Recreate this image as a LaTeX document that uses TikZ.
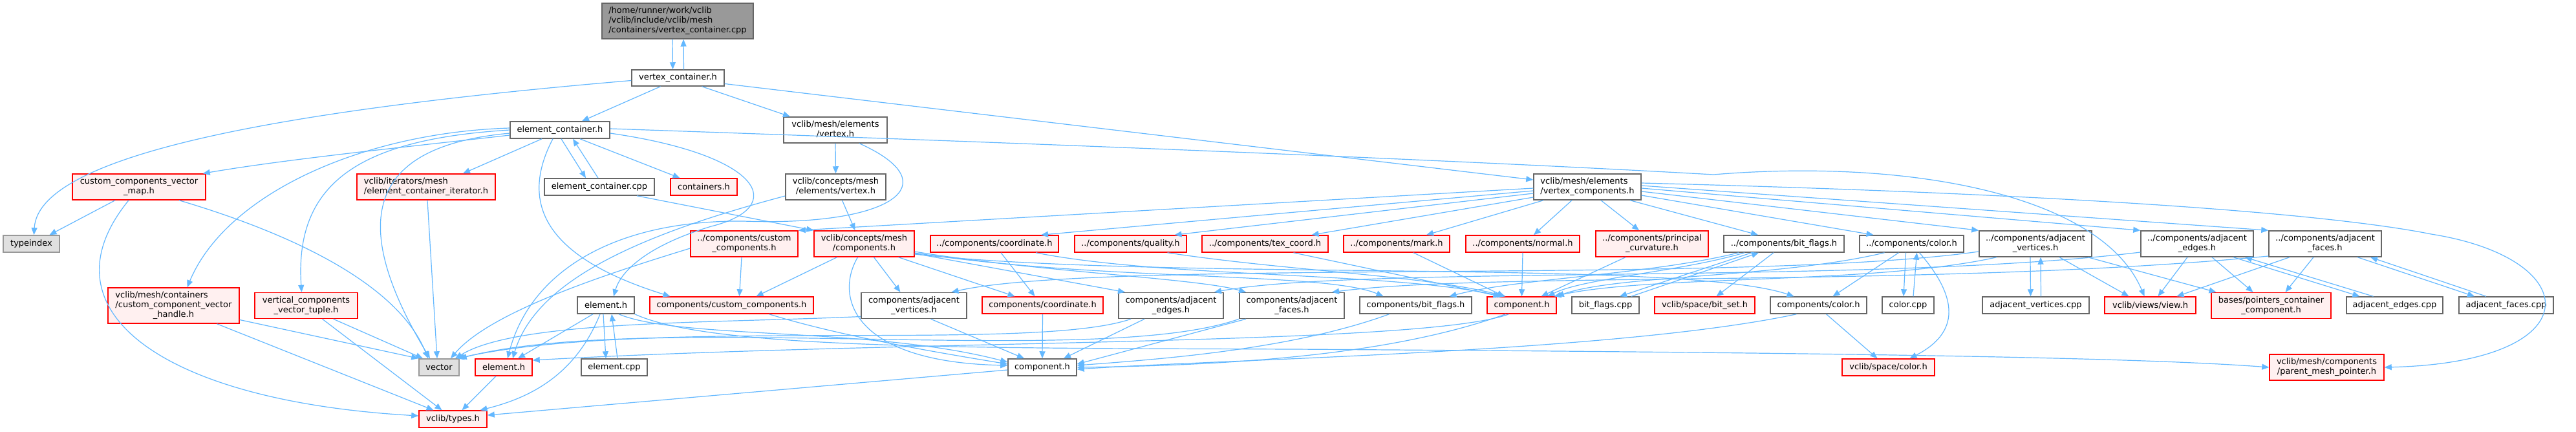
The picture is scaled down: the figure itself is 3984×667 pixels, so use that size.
\documentclass[tikz,border=0pt]{standalone}
\usepackage{fontspec}
\setmainfont{DejaVu Sans}
\usetikzlibrary{arrows.meta}
\definecolor{edgec}{HTML}{63B8FF}
\definecolor{redfill}{HTML}{FFF0F0}
\definecolor{graybd}{HTML}{666666}
\definecolor{extfill}{HTML}{E0E0E0}
\definecolor{extbd}{HTML}{999999}
\definecolor{rootfill}{HTML}{999999}
\newcommand{\twol}[2]{\begin{tabular}{@{}l@{}}#1\\\multicolumn{1}{@{}c@{}}{#2}\end{tabular}}
\begin{document}
\begin{tikzpicture}[x=1pt,y=-1pt,
  nbox/.style={draw, line width=1.5pt, inner sep=0pt, font=\fontsize{13}{15}\selectfont, text=black},
  wn/.style={nbox, draw=graybd, fill=white},
  rn/.style={nbox, draw=red, fill=redfill},
  gn/.style={nbox, draw=extbd, fill=extfill},
  rootn/.style={nbox, draw=graybd, fill=rootfill},
  sz/.style 2 args={minimum width=#1pt, minimum height=#2pt},
  edg/.style={draw=edgec, line width=1.2pt, -{Triangle[length=11pt,width=9pt]}},
]
\fill[white] (0,0) rectangle (3984,667);
\useasboundingbox (0,0) rectangle (3984,667);

% nodes
\node[rootn,sz={234}{55}] (root) at (1048,32.5) {\twol{/home/runner/work/vclib\\/vclib/include/vclib/mesh}{/containers/vertex\_container.cpp}};
\node[wn,sz={143}{25}] (vc) at (1048.5,120.5) {vertex\_container.h};
\node[wn,sz={154}{26}] (ec) at (866,201) {element\_container.h};
\node[wn,sz={160}{40}] (vtx) at (1292,201) {\twol{vclib/mesh/elements}{/vertex.h}};
\node[rn,sz={206}{40}] (ccvm) at (215,289) {\twol{custom\_components\_vector}{\_map.h}};
\node[rn,sz={214}{40}] (eci) at (659,289) {\twol{vclib/iterators/mesh}{/element\_container\_iterator.h}};
\node[wn,sz={170}{26}] (eccpp) at (927,289) {element\_container.cpp};
\node[rn,sz={103}{26}] (cont) at (1088.5,289) {containers.h};
\node[wn,sz={155}{40}] (cvtx) at (1292.5,289) {\twol{vclib/concepts/mesh}{/elements/vertex.h}};
\node[wn,sz={166}{40}] (vcomp) at (2455,289) {\twol{vclib/mesh/elements}{/vertex\_components.h}};
\node[gn,sz={87}{26}] (typeidx) at (48.5,377) {typeindex};
\node[rn,sz={166}{40}] (ccust) at (1151,377) {\twol{../components/custom}{\_components.h}};
\node[rn,sz={155}{40}] (ccomp) at (1336.5,377) {\twol{vclib/concepts/mesh}{/components.h}};
\node[rn,sz={198}{26}] (coord1) at (1538,377) {../components/coordinate.h};
\node[rn,sz={173}{26}] (qual) at (1748.5,377) {../components/quality.h};
\node[rn,sz={195}{26}] (texc) at (1956.5,377) {../components/tex\_coord.h};
\node[rn,sz={164}{26}] (mark) at (2160,377) {../components/mark.h};
\node[rn,sz={176}{26}] (normal) at (2355,377) {../components/normal.h};
\node[rn,sz={174}{40}] (princ) at (2555,377) {\twol{../components/principal}{\_curvature.h}};
\node[wn,sz={186}{26}] (bitf1) at (2759,377) {../components/bit\_flags.h};
\node[wn,sz={161}{26}] (color1) at (2956.5,377) {../components/color.h};
\node[wn,sz={174}{40}] (adjv1) at (3148,377) {\twol{../components/adjacent}{\_vertices.h}};
\node[wn,sz={174}{40}] (adje1) at (3398,377) {\twol{../components/adjacent}{\_edges.h}};
\node[wn,sz={174}{40}] (adjf1) at (3596,377) {\twol{../components/adjacent}{\_faces.h}};
\node[rn,sz={203}{55}] (ccvh) at (268.5,472.5) {\twol{vclib/mesh/containers\\/custom\_component\_vector}{\_handle.h}};
\node[rn,sz={159}{40}] (vcvt) at (473.5,472.5) {\twol{vertical\_components}{\_vector\_tuple.h}};
\node[wn,sz={88}{26}] (elemW) at (937,472) {element.h};
\node[rn,sz={253}{26}] (ccust2) at (1131.5,472) {components/custom\_components.h};
\node[wn,sz={163}{40}] (adjv2) at (1413.5,472.5) {\twol{components/adjacent}{\_vertices.h}};
\node[rn,sz={187}{26}] (coord2) at (1612.5,472) {components/coordinate.h};
\node[wn,sz={162}{40}] (adje2) at (1811,472.5) {\twol{components/adjacent}{\_edges.h}};
\node[wn,sz={162}{40}] (adjf2) at (1998,472.5) {\twol{components/adjacent}{\_faces.h}};
\node[wn,sz={173}{26}] (bitf2) at (2189.5,472) {components/bit\_flags.h};
\node[rn,sz={107}{26}] (compR) at (2353.5,472) {component.h};
\node[wn,sz={104}{26}] (bfcpp) at (2483,472) {bit\_flags.cpp};
\node[rn,sz={155}{26}] (bitset) at (2636.5,472) {vclib/space/bit\_set.h};
\node[wn,sz={149}{26}] (color2) at (2812.5,472) {components/color.h};
\node[wn,sz={80}{26}] (colcpp) at (2951,472) {color.cpp};
\node[wn,sz={165}{26}] (adjvcpp) at (3148.5,472) {adjacent\_vertices.cpp};
\node[rn,sz={141}{26}] (view) at (3325.5,472) {vclib/views/view.h};
\node[rn,sz={185}{40}] (ptrc) at (3512.5,472.5) {\twol{bases/pointers\_container}{\_component.h}};
\node[wn,sz={149}{26}] (adjecpp) at (3703.5,472) {adjacent\_edges.cpp};
\node[wn,sz={146}{26}] (adjfcpp) at (3876,472) {adjacent\_faces.cpp};
\node[gn,sz={62}{26}] (vector) at (679,568) {vector};
\node[rn,sz={88}{26}] (elemR) at (779,568) {element.h};
\node[wn,sz={102}{26}] (elemcpp) at (950,568) {element.cpp};
\node[wn,sz={106}{26}] (compW) at (1612,568) {component.h};
\node[rn,sz={143}{26}] (scolor) at (2920.5,568) {vclib/space/color.h};
\node[rn,sz={177}{40}] (pmp) at (3598.5,568) {\twol{vclib/mesh/components}{/parent\_mesh\_pointer.h}};
\node[rn,sz={105}{26}] (types) at (700.5,648) {vclib/types.h};

% edges
\draw[edg] ([xshift=-8pt]root.south) -- ([xshift=-8pt]vc.north);
\draw[edg] ([xshift=9pt]vc.north) -- ([xshift=9pt]root.south);
\draw[edg] ([yshift=-4pt]vc.west) .. controls (500,165) and (60,230) .. ([xshift=4pt]typeidx.north);
\draw[edg] ([xshift=-27pt]vc.south) -- ([xshift=34pt]ec.north);
\draw[edg] ([xshift=37pt]vc.south) -- ([xshift=-70pt]vtx.north);
\draw[edg] ([yshift=-9pt]vc.east) -- ([yshift=11pt]vcomp.west);
\draw[edg] ([yshift=-8pt]ec.west) .. controls (650,225) and (450,245) .. ([xshift=-5pt]ccvm.north east);
\draw[edg] ([yshift=3pt]ec.west) .. controls (560,205) and (350,300) .. ([xshift=21pt]ccvh.north);
\draw[edg] (ec.west) .. controls (560,215) and (455,280) .. ([xshift=-7pt]vcvt.north);
\draw[edg] ([yshift=-5pt]ec.west) .. controls (580,225) and (530,330) .. ([xshift=-14pt]vector.north);
\draw[edg] ([xshift=-28pt]ec.south) -- ([xshift=57pt]eci.north);
\draw[edg] ([xshift=2pt]ec.south) -- ([xshift=-21pt]eccpp.north);
\draw[edg] ([xshift=-2pt]eccpp.north) -- ([xshift=20pt]ec.south);
\draw[edg] ([xshift=31pt]ec.south) -- ([xshift=-37pt]cont.north);
\draw[edg] ([xshift=-11pt]ec.south) .. controls (800,320) and (850,400) .. ([xshift=-95pt]ccust2.north);
\draw[edg] ([yshift=2pt]ec.east) .. controls (1700,225) and (2300,250) .. (2650,270) .. controls (2950,245) and (3250,300) .. ([xshift=-9pt]view.north);
\draw[edg] ([yshift=-5pt]ec.east) .. controls (1180,240) and (1220,320) .. (1100,350) .. controls (1000,380) and (960,420) .. ([xshift=12pt]elemW.north);
\draw[edg] (vtx.south) -- (cvtx.north);
\draw[edg] ([xshift=37pt]vtx.south) .. controls (1470,285) and (1380,350) .. (1150,342) .. controls (950,340) and (820,420) .. ([xshift=6pt]elemR.north);
\draw[edg] ([xshift=10pt]cvtx.south) -- ([xshift=-14pt]ccomp.north);
\draw[edg] ([yshift=-14pt]cvtx.west) .. controls (1000,360) and (830,430) .. ([xshift=14pt]elemR.north);
\draw[edg] ([xshift=58pt]eccpp.south) -- (ccomp.north west);
\draw[edg] ([yshift=-2pt]vcomp.west) -- (ccust.north east);
\draw[edg] ([yshift=-6pt]vcomp.west) -- ([xshift=72pt]coord1.north);
\draw[edg] ([yshift=-10pt]vcomp.west) -- ([xshift=68pt]qual.north);
\draw[edg] ([yshift=-16pt]vcomp.west) -- ([xshift=72pt]texc.north);
\draw[edg] ([xshift=-68pt]vcomp.south) -- ([xshift=46pt]mark.north);
\draw[edg] ([xshift=-24pt]vcomp.south) -- ([xshift=17pt]normal.north);
\draw[edg] ([xshift=21pt]vcomp.south) -- ([xshift=-20pt]princ.north);
\draw[edg] ([xshift=66pt]vcomp.south) -- ([xshift=-40pt]bitf1.north);
\draw[edg] ([yshift=-13pt]vcomp.east) -- ([xshift=-59pt]color1.north);
\draw[edg] ([yshift=-7pt]vcomp.east) -- (adjv1.north west);
\draw[edg] ([yshift=-2pt]vcomp.east) -- (adje1.north west);
\draw[edg] ([yshift=2pt]vcomp.east) -- (adjf1.north west);
\draw[edg] ([yshift=6pt]vcomp.east) .. controls (3200,300) and (3600,330) .. (3760,362) .. controls (4000,400) and (4010,560) .. (pmp.east);
\draw[edg] ([xshift=-37pt]ccvm.south) -- ([xshift=28pt]typeidx.north);
\draw[edg] ([xshift=-16pt]ccvm.south) .. controls (60,480) and (250,620) .. ([yshift=5pt]types.west);
\draw[edg] ([xshift=62pt]ccvm.south) .. controls (480,370) and (620,450) .. ([xshift=-17pt]vector.north);
\draw[edg] ([xshift=2pt]eci.south) -- ([xshift=-3pt]vector.north);
\draw[edg] ([yshift=-22pt]ccvh.east) -- (vector.north west);
\draw[edg] ([xshift=67pt]ccvh.south) -- ([xshift=-30pt]types.north);
\draw[edg] ([xshift=42pt]vcvt.south) -- ([xshift=-25pt]vector.north);
\draw[edg] ([xshift=25pt]vcvt.south) -- ([xshift=-17pt]types.north);
\draw[edg] ([yshift=-7pt]ccust.west) .. controls (950,420) and (760,480) .. ([xshift=18pt]vector.north);
\draw[edg] ([xshift=-4pt]ccust.south) -- ([xshift=12pt]ccust2.north);
\draw[edg] ([xshift=-42pt]ccomp.south) -- ([xshift=38pt]ccust2.north);
\draw[edg] ([xshift=15pt]ccomp.south) -- ([xshift=-21pt]adjv2.north);
\draw[edg] ([xshift=53pt]ccomp.south) -- ([xshift=-43pt]coord2.north);
\draw[edg] ([yshift=-15pt]ccomp.east) -- ([xshift=-71pt]adje2.north);
\draw[edg] ([yshift=-12pt]ccomp.east) .. controls (1600,420) and (1850,430) .. ([xshift=-71pt]adjf2.north);
\draw[edg] ([yshift=-14pt]ccomp.east) .. controls (1700,435) and (2050,420) .. ([xshift=-50pt]bitf2.north);
\draw[edg] ([yshift=-16pt]ccomp.east) .. controls (1800,435) and (2600,400) .. ([xshift=-38pt]color2.north);
\draw[edg] ([xshift=-10pt]ccomp.south) .. controls (1290,460) and (1320,560) .. ([yshift=3pt]compW.west);
\draw[edg] ([xshift=10pt]coord1.south) -- ([xshift=-12pt]coord2.north);
\draw[edg] ([xshift=64pt]coord1.south) .. controls (1800,430) and (2150,420) .. ([xshift=-30pt]compR.north);
\draw[edg] ([xshift=57pt]qual.south) .. controls (2000,420) and (2200,425) .. ([xshift=-25pt]compR.north);
\draw[edg] ([xshift=44pt]texc.south) -- ([xshift=-33pt]compR.north);
\draw[edg] ([xshift=26pt]mark.south) -- ([xshift=-27pt]compR.north);
\draw[edg] (normal.south) -- (compR.north);
\draw[edg] ([xshift=-41pt]princ.south) -- ([xshift=30pt]compR.north);
\draw[edg] ([xshift=-61pt]bitf1.south) .. controls (2600,420) and (2450,430) .. ([xshift=40pt]compR.north);
\draw[edg] ([xshift=-70pt]bitf1.south) .. controls (2550,425) and (2350,430) .. ([xshift=52pt]bitf2.north);
\draw[edg] ([xshift=-16pt]bitf1.south) -- ([xshift=18pt]bitset.north);
\draw[edg] ([xshift=-50pt]bitf1.south) -- ([xshift=22pt]bfcpp.north);
\draw[edg] ([xshift=40pt]bfcpp.north) -- ([xshift=-39pt]bitf1.south);
\draw[edg] ([xshift=-20pt]color1.south) -- ([xshift=22pt]color2.north);
\draw[edg] ([xshift=-9pt]color1.south) -- ([xshift=-7pt]colcpp.north);
\draw[edg] ([xshift=8pt]colcpp.north) -- ([xshift=8pt]color1.south);
\draw[edg] ([xshift=12pt]color1.south) .. controls (3020,450) and (3040,510) .. ([xshift=33pt]scolor.north);
\draw[edg] ([xshift=12pt]color2.south) -- ([xshift=-17pt]scolor.north);
\draw[edg] ([xshift=-42pt]color1.south) .. controls (2750,430) and (2500,425) .. (compR.north east);
\draw[edg] ([xshift=-8pt]adjv1.south) -- ([xshift=-8pt]adjvcpp.north);
\draw[edg] ([xshift=8pt]adjvcpp.north) -- ([xshift=8pt]adjv1.south);
\draw[edg] ([xshift=37pt]adjv1.south) -- ([xshift=-33pt]view.north);
\draw[edg] ([xshift=81pt]adjv1.south) -- ([xshift=-85pt]ptrc.north);
\draw[edg] ([yshift=-12pt]adjv1.west) .. controls (2700,440) and (1700,400) .. ([xshift=58pt]adjv2.north);
\draw[edg] ([xshift=-60pt]adjv1.south) .. controls (2900,440) and (2550,425) .. ([xshift=50pt]compR.north);
\draw[edg] ([xshift=-15pt]adje1.south) -- ([xshift=12pt]view.north);
\draw[edg] ([xshift=23pt]adje1.south) -- ([xshift=-28pt]ptrc.north);
\draw[edg] ([xshift=56pt]adje1.south) -- ([xshift=-54pt]adjecpp.north);
\draw[edg] ([xshift=-33pt]adjecpp.north) -- ([xshift=74pt]adje1.south);
\draw[edg] ([yshift=-13pt]adje1.west) .. controls (2900,440) and (2100,410) .. ([xshift=67pt]adje2.north);
\draw[edg] ([xshift=-55pt]adjf1.south) -- ([xshift=41pt]view.north);
\draw[edg] ([xshift=-18pt]adjf1.south) -- ([xshift=22pt]ptrc.north);
\draw[edg] ([xshift=50pt]adjf1.south) -- ([xshift=-49pt]adjfcpp.north);
\draw[edg] ([xshift=-31pt]adjfcpp.north) -- ([xshift=70pt]adjf1.south);
\draw[edg] ([yshift=-19pt]adjf1.west) .. controls (3000,445) and (2300,420) .. ([xshift=62pt]adjf2.north);
\draw[edg] ([xshift=-20pt]elemW.south) -- ([xshift=22pt]elemR.north);
\draw[edg] ([xshift=-4pt]elemW.south) -- ([xshift=-13pt]elemcpp.north);
\draw[edg] ([xshift=5pt]elemcpp.north) -- ([xshift=9pt]elemW.south);
\draw[edg] ([xshift=-9pt]elemW.south) .. controls (890,580) and (820,615) .. ([xshift=42pt]types.north);
\draw[edg] ([xshift=20pt]elemW.south) .. controls (1050,525) and (1350,505) .. ([yshift=8pt]compW.west);
\draw[edg] (elemW.south east) .. controls (1100,540) and (1500,538) .. (2000,540) .. controls (2800,545) and (3300,552) .. (pmp.west);
\draw[edg] ([xshift=-20pt]compR.south) .. controls (2200,535) and (1400,525) .. ([yshift=11pt]elemR.east);
\draw[edg] ([xshift=-25pt]compR.south) .. controls (2150,550) and (1900,565) .. (compW.east);
\draw[edg] ([xshift=58pt]ccust2.south) .. controls (1300,520) and (1450,545) .. ([yshift=5pt]compW.west);
\draw[edg] ([xshift=26pt]adjv2.south) -- ([xshift=-28pt]compW.north);
\draw[edg] ([yshift=-17pt]adjv2.west) .. controls (1100,500) and (800,495) .. ([xshift=25pt]vector.north);
\draw[edg] (coord2.south) -- (compW.north);
\draw[edg] ([xshift=-41pt]adje2.south) -- ([xshift=33pt]compW.north);
\draw[edg] ([xshift=-62pt]adje2.south) .. controls (1600,545) and (1000,490) .. ([xshift=28pt]vector.north);
\draw[edg] ([xshift=-71pt]adjf2.south) -- ([yshift=5pt]compW.east);
\draw[edg] (adjf2.south west) .. controls (1700,570) and (1000,480) .. (vector.north east);
\draw[edg] ([xshift=-41pt]bitf2.south) .. controls (2000,540) and (1800,555) .. ([yshift=3pt]compW.east);
\draw[edg] ([xshift=-34pt]color2.south) .. controls (2500,545) and (1900,555) .. ([yshift=-3pt]compW.east);
\draw[edg] ([yshift=-4pt]compW.west) -- ([yshift=6pt]types.east);
\draw[edg] ([xshift=-12pt]elemR.south) -- ([xshift=14pt]types.north);
\end{tikzpicture}
\end{document}
